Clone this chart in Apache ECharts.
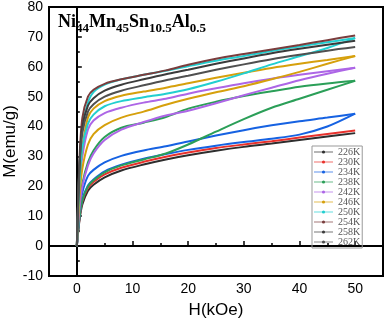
<!DOCTYPE html>
<html>
<head>
<meta charset="utf-8">
<script src="https://cdn.jsdelivr.net/npm/echarts@6/dist/echarts.min.js"></script>
<style>
  html, body { margin: 0; padding: 0; background: #fff; }
  #chart { width: 385px; height: 322px; }
</style>
</head>
<body>
<div id="chart"></div>
<script>
// Magnetic field grid shared by every branch (kOe)
const fieldKOe = [0, 0.5, 1, 2, 3, 5, 8, 12, 16, 20, 25, 30, 35, 40, 45, 50];

// Magnetization (emu/g), field-increasing branches
const m226 = [0, 9, 14, 18.5, 20.5, 23, 25.3, 27.3, 29, 30.4, 31.9, 33.2, 34.3, 35.5, 36.7, 37.8];
const m230 = [0, 9.5, 15, 19.5, 21.5, 24, 26.2, 28.2, 29.9, 31.3, 32.8, 34, 35.1, 36.3, 37.5, 38.7];
const m234 = [0, 10, 15.5, 20.3, 22.3, 25, 27.2, 29.2, 30.8, 32.2, 33.6, 34.8, 35.9, 37.3, 40, 44.3];
const m238 = [0, 10, 15.5, 20, 22, 24.7, 27, 29, 31, 34, 38.3, 42.5, 46.3, 49.3, 52.3, 55.3];
const m242 = [0, 13, 20, 27, 31, 35.5, 39, 41.5, 43.7, 45.3, 47.8, 50.5, 53, 55.5, 57.7, 59.7];
const m246 = [0, 17, 26, 34, 37.5, 40.5, 43, 45, 47.3, 49.3, 51.5, 53.5, 55.8, 58.3, 61, 63.6];
const m250 = [0, 22, 33, 41, 44, 46.8, 48.5, 49.8, 51, 52.5, 55, 57.8, 60.8, 63.5, 66.3, 69.6];
const m254 = [0, 30, 43, 50, 52.3, 54.3, 55.8, 57.3, 58.8, 60.7, 62.7, 64.3, 65.8, 67.3, 68.9, 70.5];
const m258 = [0, 28, 40, 47, 49.5, 52, 54, 55.8, 57.5, 59, 61, 62.8, 64.5, 66, 67.4, 68.7];
const m262 = [0, 27, 38, 45, 47.5, 50, 52, 53.8, 55.5, 57, 59, 60.8, 62.5, 64, 65.4, 66.6];

// Magnetization (emu/g), field-decreasing branches
const m234Down = [0, 12, 18, 23.5, 25.5, 28, 30.2, 32, 33.4, 35, 37, 38.8, 40.4, 41.8, 43, 44.3];
const m238Down = [0, 14, 21, 28, 32, 36.5, 39.6, 41.3, 43.2, 46, 48.3, 50.2, 51.8, 53.3, 54.4, 55.3];
const m242Down = [0, 20, 30, 39, 42, 44.5, 46.3, 48, 49.3, 51, 52.8, 54.5, 56, 57.3, 58.5, 59.7];
const m246Down = [0, 22, 33, 43, 46, 48.5, 50.3, 51.7, 53, 54.5, 56.3, 58, 59.6, 61, 62.3, 63.6];
const m250Down = [0, 28, 40, 48, 51.5, 54, 55.8, 57.3, 58.7, 60.2, 62, 63.6, 65.3, 66.8, 68.2, 69.6];

const temperatures = ['226K', '230K', '234K', '238K', '242K', '246K', '250K', '254K', '258K', '262K'];
const xTickLabels = [0, 10, 20, 30, 40, 50];
const xMinorTicks = [5, 15, 25, 35, 45];

const colors = ['#2e2e2e', '#e8312c', '#1662e2', '#2b9f58', '#ad66e6', '#d6a00c', '#22cfd0', '#7a3d3d', '#3b3b3b', '#505050'];
const upBranches = [m226, m230, m234, m238, m242, m246, m250, m254, m258, m262];
const downBranches = [null, null, m234Down, m238Down, m242Down, m246Down, m250Down, null, null, null];

function toPoints(values) {
  return fieldKOe.map((h, i) => [h, values[i]]);
}

function lineSeries(name, color, values) {
  return {
    name: name,
    type: 'line',
    xAxisIndex: 0,
    yAxisIndex: 0,
    data: toPoints(values),
    smooth: 0.3,
    symbol: 'circle',
    symbolSize: 4,
    showSymbol: false,
    lineStyle: { color: color, width: 2 },
    itemStyle: { color: color },
    emphasis: { disabled: true },
    animation: false
  };
}

const series = [];
temperatures.forEach((t, i) => {
  series.push(lineSeries(t, colors[i], upBranches[i]));
  if (downBranches[i]) series.push(lineSeries(t, colors[i], downBranches[i]));
});

const axisFont = { fontFamily: 'Liberation Sans, Arial, sans-serif', fontSize: 14, color: '#000' };
const titleFont = 'Liberation Serif, Times New Roman, serif';
const plotBox = { left: 49, right: 2, top: 7, bottom: 46, containLabel: false, outerBoundsMode: 'none' };

const chart = echarts.init(document.getElementById('chart'), null, { renderer: 'canvas' });
chart.setOption({
  animation: false,
  backgroundColor: '#fff',
  title: {
    text: '{m|Ni}{s|44}{m|Mn}{s|45}{m|Sn}{s|10.5}{m|Al}{s|0.5}',
    left: 58,
    top: 10,
    padding: 0,
    textStyle: {
      rich: {
        m: { fontFamily: titleFont, fontWeight: 'bold', fontSize: 18, color: '#000' },
        s: { fontFamily: titleFont, fontWeight: 'bold', fontSize: 13, color: '#000', padding: [12, 0, 0, 0] }
      }
    }
  },
  legend: {
    data: temperatures,
    orient: 'vertical',
    left: 312,
    top: 146,
    padding: [1, 2, 1, 1],
    itemGap: 0,
    itemWidth: 19,
    itemHeight: 4,
    borderColor: '#999',
    borderWidth: 1,
    selectedMode: false,
    lineStyle: { width: 2, opacity: 0.35 },
    textStyle: { fontFamily: titleFont, fontSize: 10, color: '#555', lineHeight: 10 }
  },
  grid: [
    Object.assign({ show: true, borderColor: '#000', borderWidth: 2 }, plotBox),
    Object.assign({ show: false }, plotBox)
  ],
  xAxis: [
    {
      type: 'value',
      gridIndex: 0,
      min: -5,
      max: 55,
      interval: 5,
      name: 'H(kOe)',
      nameLocation: 'middle',
      nameGap: 26,
      nameMoveOverlap: false,
      nameTextStyle: { fontFamily: 'Liberation Sans, Arial, sans-serif', fontSize: 17, color: '#000' },
      axisLine: { show: true, lineStyle: { color: '#000', width: 2 } },
      axisTick: { show: true, inside: true, length: 5, lineStyle: { color: '#000', width: 1.5 }, customValues: xTickLabels },
      axisLabel: Object.assign({ margin: 6, customValues: xTickLabels }, axisFont),
      splitLine: { show: false }
    },
    {
      type: 'value',
      gridIndex: 1,
      min: -5,
      max: 55,
      interval: 5,
      axisLine: { show: false },
      axisTick: { show: true, inside: true, length: 3, lineStyle: { color: '#000', width: 1.5 }, customValues: xMinorTicks },
      axisLabel: { show: false },
      splitLine: { show: false }
    }
  ],
  yAxis: [
    {
      type: 'value',
      gridIndex: 0,
      min: -10,
      max: 80,
      interval: 10,
      name: 'M(emu/g)',
      nameLocation: 'middle',
      nameGap: 30,
      nameMoveOverlap: false,
      nameTextStyle: { fontFamily: 'Liberation Sans, Arial, sans-serif', fontSize: 17, color: '#000' },
      axisLine: { show: true, lineStyle: { color: '#000', width: 2 } },
      axisTick: { show: true, inside: true, length: 5, lineStyle: { color: '#000', width: 1.5 } },
      minorTick: { show: true, splitNumber: 2, length: 3, lineStyle: { color: '#000', width: 1.5 } },
      axisLabel: Object.assign({ margin: 6 }, axisFont),
      splitLine: { show: false }
    },
    { type: 'value', gridIndex: 1, min: -10, max: 80, show: false }
  ],
  series: series
});
</script>
</body>
</html>
